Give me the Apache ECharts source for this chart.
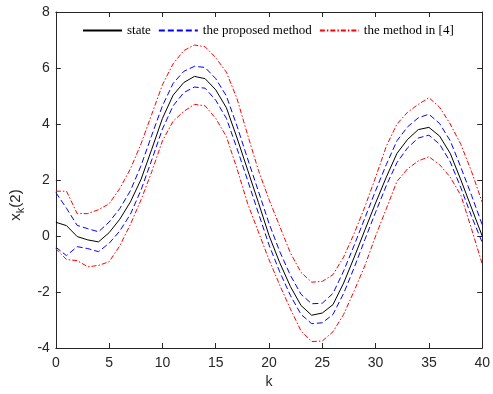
<!DOCTYPE html>
<html><head><meta charset="utf-8">
<script src="https://cdn.jsdelivr.net/npm/echarts@6/dist/echarts.min.js"></script>
<style>html,body{margin:0;padding:0;background:#fff}#c{width:493px;height:394px}</style>
</head><body><div id="c"></div>
<script>
const kValues = [0,1,2,3,4,5,6,7,8,9,10,11,12,13,14,15,16,17,18,19,20,21,22,23,24,25,26,27,28,29,30,31,32,33,34,35,36,37,38,39,40];
const stateValues = [0.49,0.37,-0.02,-0.14,-0.21,0.12,0.60,1.22,2.03,3.10,4.20,5.03,5.48,5.70,5.62,5.22,4.58,3.50,2.35,1.20,0.02,-0.95,-1.80,-2.48,-2.83,-2.75,-2.45,-1.68,-0.75,0.22,1.18,2.10,2.95,3.45,3.80,3.88,3.57,2.95,2.00,1.00,0.00];
const proposedUpper = [1.55,0.99,0.38,0.26,0.15,0.50,0.98,1.62,2.52,3.60,4.65,5.45,5.88,6.06,6.02,5.62,5.00,3.92,2.75,1.60,0.45,-0.55,-1.40,-2.08,-2.42,-2.40,-2.05,-1.25,-0.32,0.65,1.62,2.55,3.40,3.90,4.22,4.35,4.02,3.40,2.45,1.45,0.40];
const proposedLower = [-0.40,-0.70,-0.38,-0.45,-0.56,-0.26,0.18,0.78,1.65,2.72,3.82,4.65,5.12,5.32,5.28,4.85,4.20,3.12,1.98,0.82,-0.32,-1.28,-2.12,-2.80,-3.13,-3.10,-2.80,-2.05,-1.12,-0.12,0.85,1.80,2.62,3.15,3.50,3.60,3.28,2.65,1.72,0.70,-0.23];
const ref4Upper = [1.60,1.60,0.80,0.80,0.94,1.15,1.70,2.40,3.30,4.35,5.40,6.15,6.62,6.82,6.76,6.37,5.85,4.90,3.60,2.35,1.30,0.35,-0.60,-1.30,-1.65,-1.62,-1.38,-0.75,0.10,1.05,2.10,3.20,4.00,4.42,4.70,4.94,4.60,4.00,3.27,2.30,1.20];
const ref4Lower = [-0.45,-0.84,-0.88,-1.10,-1.05,-0.92,-0.35,0.42,1.30,2.30,3.40,4.10,4.45,4.70,4.65,4.20,3.55,2.40,1.15,0.15,-0.85,-1.75,-2.60,-3.39,-3.77,-3.75,-3.42,-2.80,-1.95,-1.05,0.00,0.97,1.95,2.40,2.68,2.83,2.55,2.10,1.45,0.25,-1.00];
const legendNames = ['state','the proposed method','the method in [4]'];

const pairs = arr => kValues.map((k, i) => [k, arr[i]]);
const axisColor = '#262626';
const sans = 'Liberation Sans';

function mk(name, data, color, type, z) {
  return { name, type: 'line', data: pairs(data), symbol: 'none', showSymbol: false, smooth: false,
    lineStyle: { color, width: 1, type }, itemStyle: { color }, z, animation: false,
    emphasis: { disabled: true } };
}
const dashBlue = [6, 3];
const dashDotRed = [5, 2, 1.5, 2];

const chart = echarts.init(document.getElementById('c'), null, { renderer: 'canvas' });
const axisCommon = {
  axisLine: { show: true, onZero: false, lineStyle: { color: axisColor, width: 1 } },
  axisTick: { show: true, inside: true, length: 5, lineStyle: { color: axisColor, width: 1 } },
  splitLine: { show: false }
};
chart.setOption({
  animation: false,
  backgroundColor: '#fff',
  grid: { left: 50, right: 8, top: 12, bottom: 40, containLabel: false },
  legend: {
    data: legendNames, left: 77, top: 19, itemWidth: 39, itemHeight: 1, itemGap: 7,
    itemStyle: { opacity: 0 },
    textStyle: { fontFamily: 'Liberation Serif', fontSize: 13, color: '#000' },
    selectedMode: false
  },
  xAxis: [
    Object.assign({ type: 'value', min: 0, max: 40, interval: 5, position: 'bottom',
      axisLabel: { color: axisColor, fontSize: 14, fontFamily: sans, margin: 8 },
      name: 'k', nameLocation: 'middle', nameGap: 27,
      nameTextStyle: { color: axisColor, fontSize: 14, fontFamily: sans } }, axisCommon),
    Object.assign({ type: 'value', min: 0, max: 40, interval: 5, position: 'top',
      axisLabel: { show: false } }, axisCommon)
  ],
  yAxis: [
    Object.assign({ type: 'value', min: -4, max: 8, interval: 2, position: 'left',
      axisLabel: { color: axisColor, fontSize: 14, fontFamily: sans, margin: 6 },
      name: '{x|x}{k|k}{p|(2)}', nameLocation: 'middle', nameGap: 27, nameRotate: 90,
      nameTextStyle: { color: axisColor, fontFamily: sans, padding: [0, 50, 0, 0],
        rich: {
          x: { fontSize: 15, fontFamily: sans, color: axisColor, lineHeight: 22, verticalAlign: 'middle' },
          k: { fontSize: 11, fontFamily: sans, color: axisColor, verticalAlign: 'bottom' },
          p: { fontSize: 15, fontFamily: sans, color: axisColor, lineHeight: 22, verticalAlign: 'middle' }
        } } }, axisCommon),
    Object.assign({ type: 'value', min: -4, max: 8, interval: 2, position: 'right',
      axisLabel: { show: false } }, axisCommon)
  ],
  series: [
    mk('the method in [4]', ref4Upper, '#ff0000', dashDotRed, 2),
    mk('the method in [4]', ref4Lower, '#ff0000', dashDotRed, 2),
    mk('the proposed method', proposedUpper, '#0000ff', dashBlue, 3),
    mk('the proposed method', proposedLower, '#0000ff', dashBlue, 3),
    mk('state', stateValues, '#000000', 'solid', 4)
  ]
});
</script></body></html>
